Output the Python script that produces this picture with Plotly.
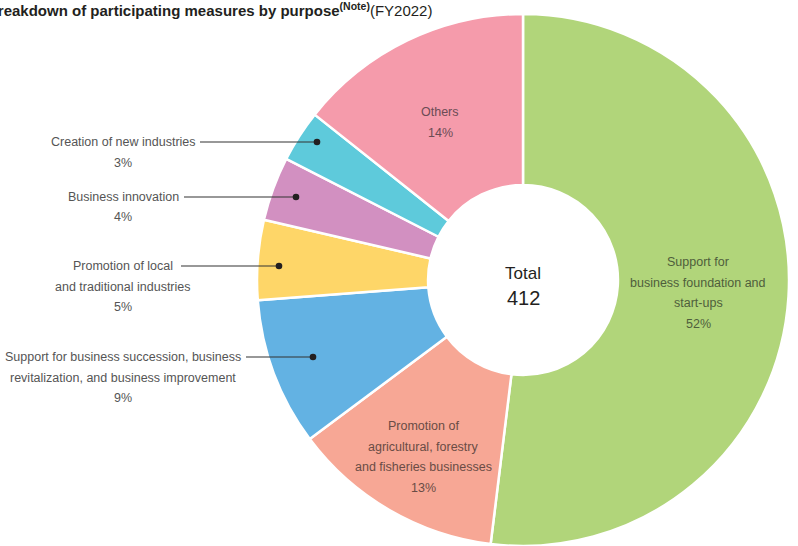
import plotly.graph_objects as go

W, H = 798, 546

# ---- data ----
labels = [
    "Support for\nbusiness foundation and\nstart-ups",
    "Promotion of\nagricultural, forestry\nand fisheries businesses",
    "Support for business succession, business\nrevitalization, and business improvement",
    "Promotion of local\nand traditional industries",
    "Business innovation",
    "Creation of new industries",
    "Others",
]
counts = [214, 53, 37, 20, 16, 13, 59]
colors = ["#b1d57a", "#f7a795", "#63b2e3", "#fed668", "#d290c1", "#5ecadb", "#f59bab"]
total = sum(counts)
title_main = "Breakdown of participating measures by purpose"
title_note = "(Note)"
title_year = "(FY2022)"

# ---- layout helpers (pixel positions of labels) ----
FONT = "Liberation Sans, Arial, sans-serif"
# per slice: (text centre x, first-line y, inside?, text colour, leader line start x, dot x)
label_pos = [
    (698, 262, True, "#4f5e3c", None, None),
    (423, 426, True, "#6a4c45", None, None),
    (123, 357, False, "#555555", 246, 313),
    (123, 266, False, "#555555", 181, 279),
    (123, 197, False, "#555555", 184, 296),
    (123, 142, False, "#555555", 200, 317),
    (440, 112, True, "#6b4b55", None, None),
]
LINE_GAP = 20.5

def px(x):
    return x / W

def py(y):
    return 1 - y / H

fig = go.Figure()
fig.add_trace(go.Pie(
    labels=[l.replace("\n", " ") for l in labels],
    values=counts,
    sort=False,
    direction="clockwise",
    rotation=0,
    hole=0.357,
    marker=dict(colors=colors, line=dict(color="white", width=2.5)),
    textinfo="none",
    hoverinfo="label+value+percent",
    showlegend=False,
    domain=dict(x=[0.3108, 1.0], y=[0, 1 - 14 / H]),
))

annotations = []
shapes = []
for lab, c, (cx, y0, inside, tcol, lx0, dotx) in zip(labels, counts, label_pos):
    lines = lab.split("\n") + [f"{round(100 * c / total)}%"]
    for i, t in enumerate(lines):
        annotations.append(dict(
            x=px(cx), y=py(y0 + i * LINE_GAP), xref="paper", yref="paper",
            text=t, showarrow=False, xanchor="center", yanchor="middle",
            font=dict(family=FONT, size=12.5, color=tcol),
        ))
    if not inside:
        shapes.append(dict(type="line", xref="paper", yref="paper",
                           x0=px(lx0), x1=px(dotx), y0=py(y0), y1=py(y0),
                           line=dict(color="#333333", width=1.2)))
        r = 3.3
        shapes.append(dict(type="circle", xref="paper", yref="paper",
                           x0=px(dotx - r), x1=px(dotx + r),
                           y0=py(y0 - r), y1=py(y0 + r),
                           fillcolor="#231f20", line=dict(width=0)))

# centre total
annotations.append(dict(x=px(523), y=py(273), xref="paper", yref="paper", text="Total",
                        showarrow=False, xanchor="center", yanchor="middle",
                        font=dict(family=FONT, size=17, color="#231f20")))
annotations.append(dict(x=px(523), y=py(298), xref="paper", yref="paper", text=str(total),
                        showarrow=False, xanchor="center", yanchor="middle",
                        font=dict(family=FONT, size=20, color="#231f20")))

# title (left part runs off the canvas, as in the reference)
annotations.append(dict(
    x=px(434), y=py(9), xref="paper", yref="paper",
    text=f"<b>{title_main}</b><sup><b>{title_note}</b></sup>{title_year}",
    showarrow=False, xanchor="right", yanchor="middle",
    font=dict(family=FONT, size=15, color="#231f20"),
))

fig.update_layout(
    width=W, height=H,
    margin=dict(l=0, r=0, t=0, b=0),
    paper_bgcolor="white", plot_bgcolor="white",
    annotations=annotations, shapes=shapes,
)

fig.write_html("out.html")
